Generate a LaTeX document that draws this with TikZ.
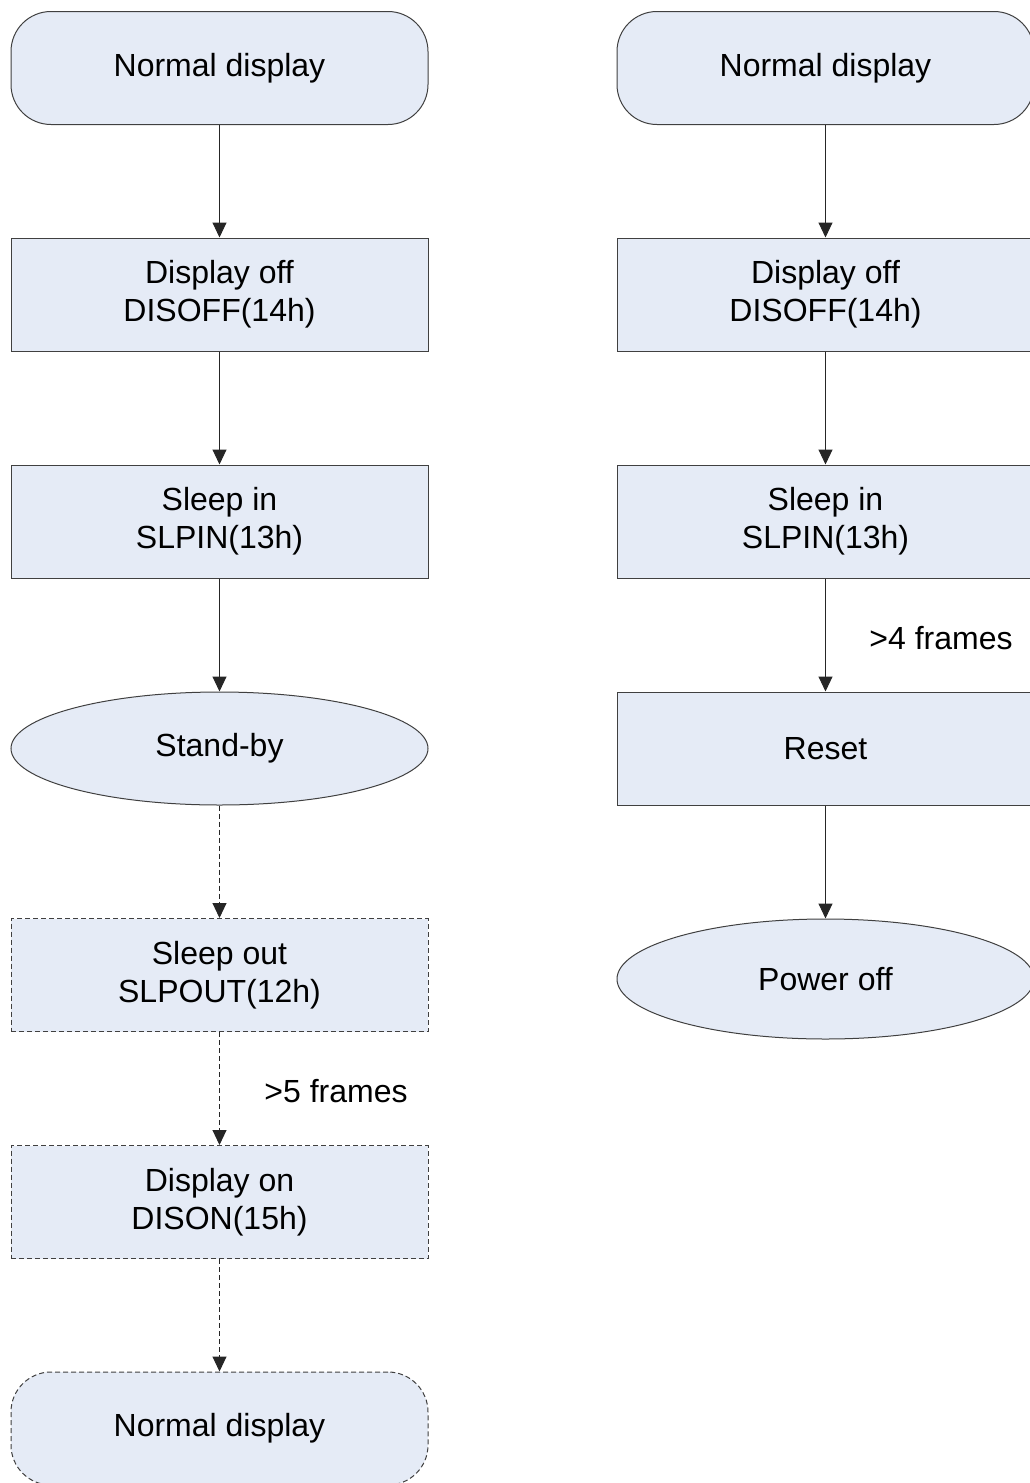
\documentclass[tikz,border=0pt]{standalone}
\usepackage{fontspec}
\setmainfont{Liberation Sans}
\usetikzlibrary{arrows.meta,shapes.geometric}
\definecolor{boxfill}{HTML}{E5EBF6}
\tikzset{
  box/.style={draw=black!75, fill=boxfill, line width=1pt, minimum width=417pt,
    minimum height=113pt, inner sep=0pt, align=center, font=\fontsize{32}{38}\selectfont},
  rbox/.style={box, rounded corners=40pt},
  oval/.style={box, ellipse},
  later/.style={dash pattern=on 5pt off 3pt},
  flow/.style={-{Triangle[length=15pt,width=14pt]}, line width=1pt, draw=black!85},
  note/.style={font=\fontsize{32}{38}\selectfont},
}

\begin{document}
\begin{tikzpicture}[x=1pt,y=-1pt]
		%%%%% START %%%%%
		\path[use as bounding box, clip] (0,0) rectangle (1030,1483);
		
		% sleep in, then sleep out
		\node[rbox] (normA) at (219.5,68) {Normal display};
		\node[box] (offA) at (219.5,294.5) {Display off\\DISOFF(14h)};
		\node[box] (slpA) at (219.5,521.5) {Sleep in\\SLPIN(13h)};
		\node[oval] (stby) at (219.5,748.5) {Stand-by};
		\node[box, later] (wake) at (219.5,975) {Sleep out\\SLPOUT(12h)};
		\node[box, later] (onA) at (219.5,1202) {Display on\\DISON(15h)};
		\node[rbox, later] (normC) at (219.5,1428.5) {Normal display};
		\node[note] (fiveF) at (336,1091) {>5 frames};
		
		\draw[flow] (normA) -- (offA);
		\draw[flow] (offA) -- (slpA);
		\draw[flow] (slpA) -- (stby);
		\draw[flow, later] (stby) -- (wake);
		\draw[flow, later] (wake) -- (onA);
		\draw[flow, later] (onA) -- (normC);
		
		% sleep in, then power off
		\node[rbox] (normB) at (825.5,68) {Normal display};
		\node[box] (offB) at (825.5,294.5) {Display off\\DISOFF(14h)};
		\node[box] (slpB) at (825.5,521.5) {Sleep in\\SLPIN(13h)};
		\node[box] (rst) at (825.5,748.5) {Reset};
		\node[oval, minimum height=120pt] (pwr) at (825.5,979) {Power off};
		\node[note] (fourF) at (941,638) {>4 frames};
		
		\draw[flow] (normB) -- (offB);
		\draw[flow] (offB) -- (slpB);
		\draw[flow] (slpB) -- (rst);
		\draw[flow] (rst) -- (pwr);
		
		%%%%% END %%%%%
	\end{tikzpicture}
\end{document}
